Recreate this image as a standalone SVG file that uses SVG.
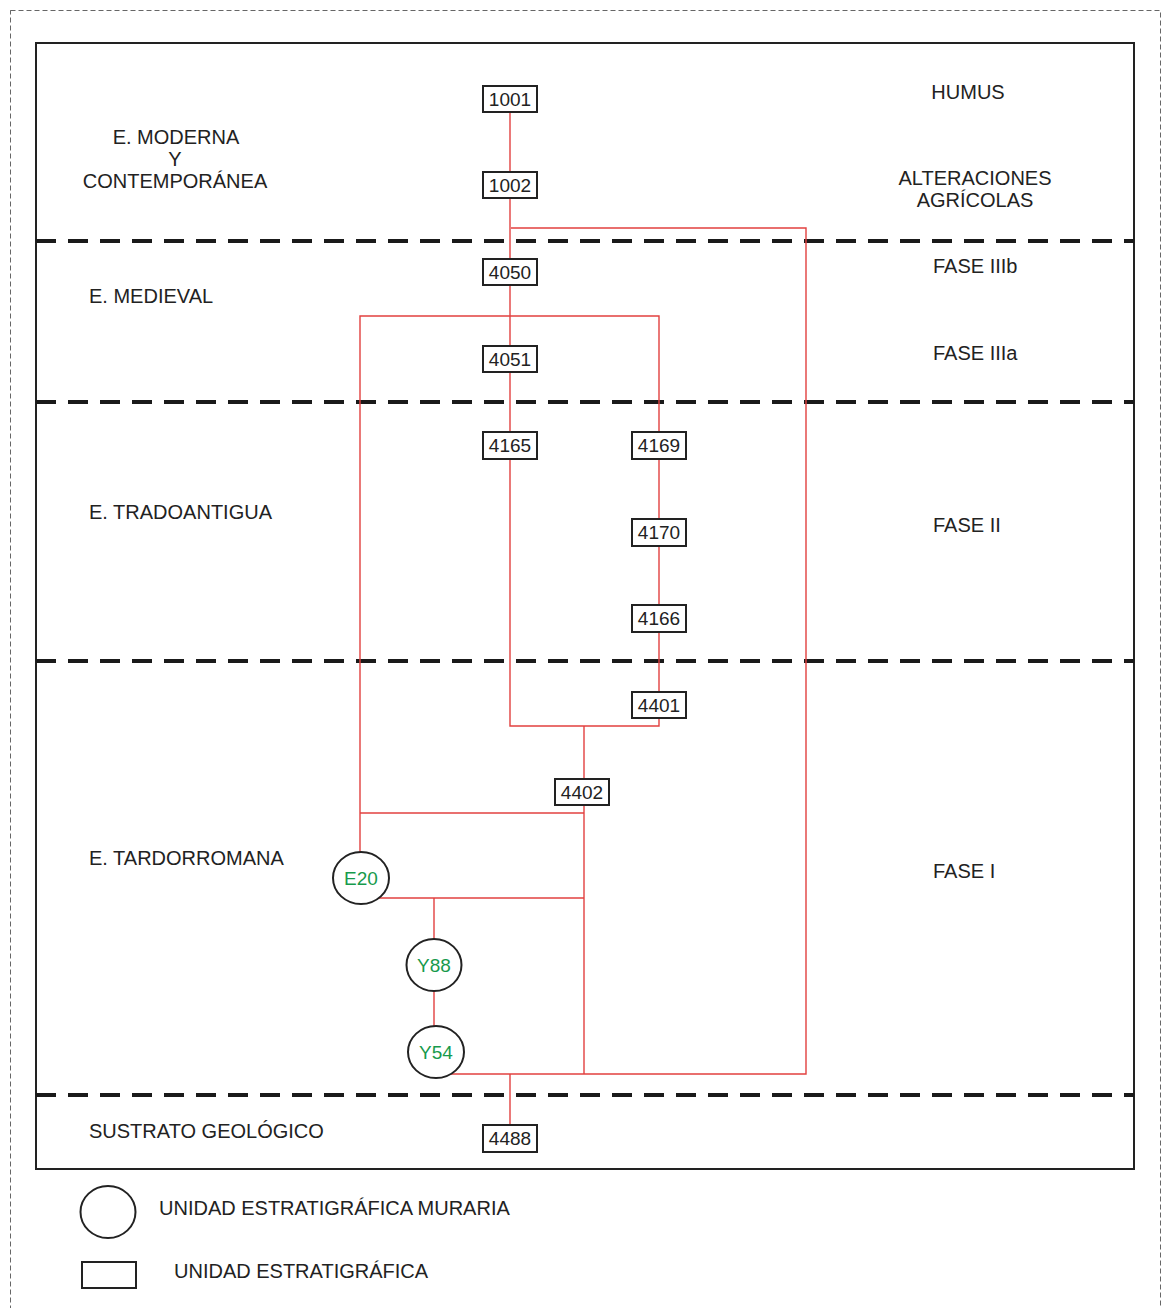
<svg xmlns="http://www.w3.org/2000/svg" width="1167" height="1308" viewBox="0 0 1167 1308">
<style>
.lbl{font-family:"Liberation Sans",Arial,sans-serif;font-size:20px;fill:#222}
.leg{font-family:"Liberation Sans",Arial,sans-serif;font-size:20px;fill:#222}
.box rect{fill:#fff;stroke:#222;stroke-width:2}
.box text{font-family:"Liberation Sans",Arial,sans-serif;font-size:19px;fill:#222;text-anchor:middle}
.us ellipse{fill:#fff;stroke:#222;stroke-width:2}
.us text{font-family:"Liberation Sans",Arial,sans-serif;font-size:19px;fill:#179a4c;text-anchor:middle}
.div{stroke:#1a1a1a;stroke-width:4;stroke-dasharray:20 12;fill:none}
.con{stroke:#e2403f;stroke-width:1.4;fill:none}
</style>
<rect width="1167" height="1308" fill="#fff"/>
<rect x="10.5" y="10.5" width="1150" height="1320" fill="none" stroke="#666" stroke-width="1" stroke-dasharray="5 3"/>
<rect x="36" y="43" width="1098" height="1126" fill="none" stroke="#222" stroke-width="2"/>
<g id="dividers">
<line class="div" x1="36" y1="241" x2="1134" y2="241"/>
<line class="div" x1="36" y1="402" x2="1134" y2="402"/>
<line class="div" x1="36" y1="661" x2="1134" y2="661"/>
<line class="div" x1="36" y1="1095" x2="1134" y2="1095"/>
</g>
<g id="labels">
<text class="lbl" x="176" y="144" text-anchor="middle">E. MODERNA</text>
<text class="lbl" x="175" y="166" text-anchor="middle">Y</text>
<text class="lbl" x="175" y="188" text-anchor="middle">CONTEMPORÁNEA</text>
<text class="lbl" x="89" y="303">E. MEDIEVAL</text>
<text class="lbl" x="89" y="519">E. TRADOANTIGUA</text>
<text class="lbl" x="89" y="865">E. TARDORROMANA</text>
<text class="lbl" x="89" y="1138">SUSTRATO GEOLÓGICO</text>
<text class="lbl" x="968" y="99" text-anchor="middle">HUMUS</text>
<text class="lbl" x="975" y="185" text-anchor="middle">ALTERACIONES</text>
<text class="lbl" x="975" y="207" text-anchor="middle">AGRÍCOLAS</text>
<text class="lbl" x="933" y="273">FASE IIIb</text>
<text class="lbl" x="933" y="360">FASE IIIa</text>
<text class="lbl" x="933" y="532">FASE II</text>
<text class="lbl" x="933" y="878">FASE I</text>
</g>
<g id="connectors">
<polyline class="con" points="510,112 510,172"/>
<polyline class="con" points="510,198 510,259"/>
<polyline class="con" points="511,228 806,228 806,1074 584,1074"/>
<polyline class="con" points="510,285 510,346"/>
<polyline class="con" points="360,852 360,316 659,316 659,432"/>
<polyline class="con" points="510,372 510,432"/>
<polyline class="con" points="510,459 510,726 659,726 659,718"/>
<polyline class="con" points="659,459 659,519"/>
<polyline class="con" points="659,546 659,605"/>
<polyline class="con" points="659,632 659,692"/>
<polyline class="con" points="584,726 584,779"/>
<polyline class="con" points="584,805 584,1074"/>
<polyline class="con" points="360,813 584,813"/>
<polyline class="con" points="376,898 584,898"/>
<polyline class="con" points="434,898 434,939"/>
<polyline class="con" points="434,991 434,1026"/>
<polyline class="con" points="450,1074 584,1074"/>
<polyline class="con" points="510,1074 510,1125"/>
</g>
<g id="n1001" class="box"><rect x="483" y="86" width="54" height="26"/><text x="510" y="106">1001</text></g>
<g id="n1002" class="box"><rect x="483" y="172" width="54" height="26"/><text x="510" y="192">1002</text></g>
<g id="n4050" class="box"><rect x="483" y="259" width="54" height="26"/><text x="510" y="279">4050</text></g>
<g id="n4051" class="box"><rect x="483" y="346" width="54" height="26"/><text x="510" y="366">4051</text></g>
<g id="n4165" class="box"><rect x="483" y="432" width="54" height="27"/><text x="510" y="452">4165</text></g>
<g id="n4169" class="box"><rect x="632" y="432" width="54" height="27"/><text x="659" y="452">4169</text></g>
<g id="n4170" class="box"><rect x="632" y="519" width="54" height="27"/><text x="659" y="539">4170</text></g>
<g id="n4166" class="box"><rect x="632" y="605" width="54" height="27"/><text x="659" y="625">4166</text></g>
<g id="n4401" class="box"><rect x="632" y="692" width="54" height="26"/><text x="659" y="712">4401</text></g>
<g id="n4402" class="box"><rect x="555" y="779" width="54" height="26"/><text x="582" y="799">4402</text></g>
<g id="n4488" class="box"><rect x="483" y="1125" width="54" height="27"/><text x="510" y="1145">4488</text></g>
<g id="nE20" class="us"><ellipse cx="361" cy="878" rx="28" ry="26"/><text x="361" y="885">E20</text></g>
<g id="nY88" class="us"><ellipse cx="434" cy="965" rx="27.5" ry="26"/><text x="434" y="972">Y88</text></g>
<g id="nY54" class="us"><ellipse cx="436" cy="1052" rx="28" ry="26"/><text x="436" y="1059">Y54</text></g>
<g id="legend">
<ellipse cx="108" cy="1212" rx="27.5" ry="26" fill="#fff" stroke="#222" stroke-width="2"/>
<text class="leg" x="159" y="1215">UNIDAD ESTRATIGRÁFICA MURARIA</text>
<rect x="82" y="1262" width="54" height="26" fill="#fff" stroke="#222" stroke-width="2"/>
<text class="leg" x="174" y="1278">UNIDAD ESTRATIGRÁFICA</text>
</g>
</svg>
